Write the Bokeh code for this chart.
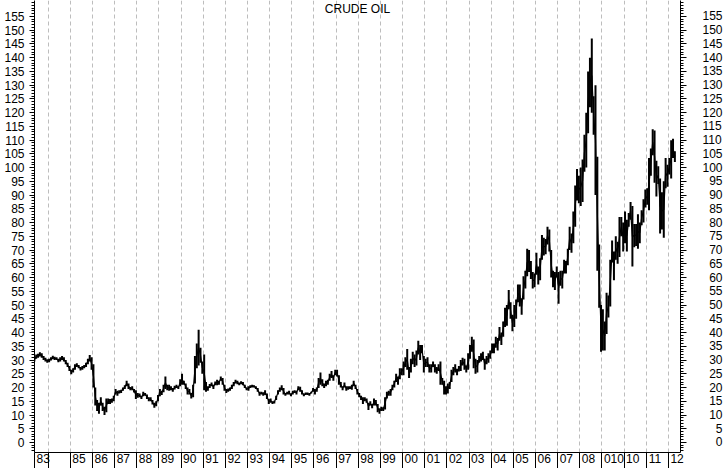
from bokeh.plotting import figure
from bokeh.models import FixedTicker, LinearAxis, Label, Range1d, Grid
from bokeh.embed import file_html
from bokeh.resources import INLINE

# ---------------- data (monthly low / high) ----------------
start_year = 1983
start_month = 5  # first bar: May 1983

low = [
    29.5, 30.5, 30.8, 31.3, 30.8, 30.0, 29.5, 29.0,                          # 1983 (May-Dec)
    29.2, 29.8, 30.3, 30.0, 30.0, 29.2, 29.5, 30.0, 29.5, 28.5, 27.5, 26.0,  # 1984
    24.8, 25.5, 26.5, 27.5, 27.0, 26.2, 26.5, 27.0, 27.5, 28.5, 29.5, 26.5,  # 1985
    20.0, 13.5, 11.5, 10.5, 13.5, 11.5, 10.0, 11.0, 14.0, 14.0, 14.5, 15.0,  # 1986
    17.5, 17.0, 17.8, 18.0, 18.8, 19.5, 20.5, 19.5, 19.0, 19.0, 18.2, 15.8,  # 1987
    16.3, 16.5, 15.8, 16.8, 17.0, 15.8, 15.0, 15.0, 13.8, 12.6, 13.2, 15.0,  # 1988
    16.8, 17.3, 18.3, 19.5, 19.0, 18.8, 19.0, 18.5, 19.3, 19.8, 19.5, 20.5,  # 1989
    21.0, 21.0, 19.5, 17.5, 17.5, 16.0, 16.5, 21.5, 27.0, 28.0, 29.0, 25.0,  # 1990
    19.0, 18.5, 18.8, 19.8, 20.5, 19.5, 20.8, 20.8, 21.0, 22.5, 21.0, 18.8,  # 1991
    18.0, 18.5, 18.8, 19.5, 20.5, 21.5, 21.2, 20.8, 21.2, 20.8, 19.8, 19.0,  # 1992
    18.8, 19.8, 20.0, 20.0, 19.5, 18.5, 17.0, 17.5, 17.0, 17.3, 15.8, 14.0,  # 1993
    14.5, 14.0, 14.2, 15.5, 17.5, 18.5, 19.0, 17.5, 17.0, 17.5, 17.5, 16.8,  # 1994
    17.5, 18.0, 17.5, 19.0, 18.5, 17.5, 16.8, 17.3, 17.3, 17.0, 17.8, 18.5,  # 1995
    17.5, 18.5, 19.8, 21.0, 20.5, 19.8, 20.5, 21.0, 22.5, 23.5, 22.5, 24.5,  # 1996
    24.0, 21.0, 20.0, 19.0, 20.0, 18.8, 19.2, 19.5, 19.2, 20.5, 19.5, 17.5,  # 1997
    16.5, 15.5, 14.0, 15.0, 14.5, 11.8, 13.5, 12.5, 13.5, 13.5, 11.0, 10.5,  # 1998
    11.5, 11.5, 12.0, 16.0, 17.0, 17.0, 19.0, 20.0, 22.0, 21.0, 23.0, 24.5,  # 1999
    24.5, 27.5, 26.5, 23.5, 25.5, 28.5, 27.5, 28.0, 32.0, 30.0, 32.5, 25.5,  # 2000
    27.5, 27.5, 25.5, 25.5, 27.5, 25.5, 25.0, 26.0, 21.0, 21.0, 17.5, 17.5,  # 2001
    17.8, 19.5, 22.0, 24.5, 25.5, 24.5, 25.8, 26.0, 28.0, 26.5, 25.5, 26.5,  # 2002
    30.5, 33.0, 27.0, 25.0, 25.5, 29.0, 29.5, 30.0, 26.5, 28.5, 29.0, 30.5,  # 2003
    32.5, 32.5, 34.5, 33.5, 37.0, 35.5, 38.5, 42.0, 42.5, 48.5, 45.0, 40.5,  # 2004
    42.0, 45.0, 51.0, 49.5, 46.5, 52.0, 56.0, 60.5, 62.0, 59.5, 56.0, 56.5,  # 2005
    61.0, 57.5, 59.0, 66.5, 68.0, 68.5, 72.0, 69.5, 60.0, 56.5, 55.5, 60.0,  # 2006
    50.5, 57.0, 56.0, 61.5, 61.5, 64.5, 70.0, 69.0, 72.5, 78.5, 88.0, 87.0,  # 2007
    86.0, 87.5, 98.5, 100.0, 112.5, 122.0, 120.0, 112.0, 90.0, 62.5, 49.0, 33.0,  # 2008
    33.5, 33.5, 39.5, 45.5, 49.5, 65.5, 59.0, 66.5, 65.0, 67.5, 75.0, 69.5,  # 2009
    72.5, 69.5, 78.5, 81.0, 64.0, 71.0, 71.5, 70.5, 72.5, 79.0, 80.0, 85.5,  # 2010
    86.5, 84.5, 97.0, 104.5, 94.5, 89.5, 94.0, 76.0, 77.5, 74.5, 92.5, 93.0,  # 2011
    97.5, 96.0, 103.5, 102.0,                                                # 2012 (Jan-Apr)
]

high = [
    30.8, 32.0, 32.3, 32.8, 32.5, 31.5, 30.8, 30.3,                          # 1983
    30.5, 31.0, 31.6, 31.2, 31.0, 30.5, 31.0, 31.5, 31.0, 30.0, 29.0, 27.8,  # 1984
    26.5, 27.0, 28.5, 28.8, 28.2, 27.5, 27.8, 28.2, 29.0, 30.5, 31.8, 31.0,  # 1985
    28.5, 20.0, 15.5, 14.5, 16.5, 14.5, 13.0, 16.0, 16.0, 15.8, 16.0, 17.0,  # 1986
    19.5, 18.8, 19.0, 19.2, 20.0, 20.8, 22.5, 21.5, 20.2, 20.5, 19.5, 19.0,  # 1987
    18.0, 17.8, 17.0, 18.5, 18.0, 17.5, 16.5, 16.5, 15.5, 14.5, 15.0, 17.3,  # 1988
    19.5, 18.8, 21.0, 24.0, 21.0, 21.0, 20.5, 19.8, 20.6, 21.0, 20.5, 23.0,  # 1989
    25.0, 22.5, 21.5, 20.0, 19.5, 18.0, 21.0, 31.5, 36.0, 41.0, 34.5, 29.5,  # 1990
    32.0, 22.0, 20.5, 21.3, 21.8, 21.0, 22.2, 22.8, 22.5, 24.0, 23.5, 21.0,  # 1991
    19.5, 19.6, 20.0, 21.0, 22.0, 22.8, 22.5, 21.8, 22.3, 22.0, 21.0, 20.0,  # 1992
    20.5, 20.8, 21.0, 20.8, 20.5, 19.8, 18.5, 18.5, 18.3, 19.0, 17.8, 15.8,  # 1993
    16.0, 15.0, 15.2, 17.0, 19.0, 20.0, 20.8, 19.8, 18.0, 18.5, 18.8, 17.8,  # 1994
    18.8, 19.0, 18.8, 20.5, 20.3, 19.0, 17.8, 18.2, 18.2, 18.0, 18.5, 19.8,  # 1995
    19.5, 20.0, 23.5, 25.5, 23.0, 21.5, 22.5, 22.8, 25.0, 26.0, 24.5, 26.5,  # 1996
    26.5, 24.5, 22.0, 20.5, 21.8, 20.5, 20.5, 20.5, 21.0, 22.5, 21.0, 19.5,  # 1997
    18.0, 17.0, 16.5, 16.5, 16.0, 14.5, 15.0, 14.0, 16.0, 15.5, 14.0, 12.5,  # 1998
    13.0, 12.8, 16.5, 18.5, 18.8, 19.5, 21.0, 22.5, 25.0, 24.0, 27.0, 27.0,  # 1999
    29.5, 31.0, 34.0, 27.5, 30.5, 33.0, 32.0, 33.5, 37.0, 35.5, 35.5, 31.5,  # 2000
    30.5, 31.0, 28.5, 28.5, 29.5, 28.5, 27.5, 28.5, 29.5, 23.5, 22.5, 20.5,  # 2001
    21.5, 22.0, 26.5, 27.5, 28.5, 26.8, 27.8, 30.0, 30.8, 30.5, 28.0, 32.5,  # 2002
    35.5, 38.5, 37.5, 30.5, 30.0, 31.5, 32.5, 33.0, 30.5, 31.5, 32.5, 33.5,  # 2003
    36.0, 36.0, 38.5, 38.0, 42.0, 40.0, 44.0, 49.0, 50.0, 55.5, 51.0, 46.5,  # 2004
    50.0, 52.0, 57.5, 57.5, 52.5, 60.5, 62.5, 70.5, 70.0, 66.0, 62.0, 61.5,  # 2005
    69.0, 64.0, 67.0, 75.5, 74.5, 74.0, 78.5, 77.5, 70.0, 62.5, 62.0, 64.0,  # 2006
    62.0, 62.5, 62.5, 66.5, 66.0, 70.5, 78.5, 76.0, 84.0, 93.5, 99.5, 97.0,  # 2007
    100.0, 103.0, 112.0, 120.0, 135.0, 140.0, 147.0, 126.0, 130.0, 104.0, 72.0, 50.0,  # 2008
    48.5, 44.0, 54.5, 53.5, 66.5, 73.5, 69.5, 75.0, 73.0, 82.0, 82.0, 80.0,  # 2009
    84.0, 81.0, 83.5, 87.5, 86.0, 79.5, 79.5, 83.0, 80.0, 84.5, 88.5, 92.0,  # 2010
    92.5, 103.5, 107.0, 114.0, 113.5, 102.5, 100.5, 96.0, 91.0, 95.0, 103.5, 101.0,  # 2011
    103.5, 110.0, 110.5, 106.0,                                              # 2012
]

title_text = "CRUDE OIL"
grid_years = list(range(1984, 2013))
x_tick_labels = ["83", "", "85", "86", "87", "88", "89", "90", "91", "92", "93", "94",
                 "95", "96", "97", "98", "99", "00", "01", "02", "03", "04", "05", "06",
                 "07", "08", "010", "10", "11", "12"]
y_tick_values = list(range(0, 160, 5))
y_minor_values = list(range(-3, 161))

# ---------------- figure ----------------
X0, X1 = 1983.3815, 2012.5463
Y0, Y1 = -3.64, 160.8
FRAME_W = 646
PX_PER_YEAR = FRAME_W / (X1 - X0)
DIGIT_W = 6.67  # approx. width of a 12px digit
SEP_LEN = 16    # length of the year separators below the axis

FONT = "Liberation Sans"

p = figure(width=725, height=468, output_backend="svg", toolbar_location=None,
           x_range=Range1d(X0, X1), y_range=Range1d(Y0, Y1),
           x_axis_location=None, y_axis_location=None,
           min_border_left=34, min_border_right=45, min_border_top=0, min_border_bottom=16)
p.outline_line_color = None
p.background_fill_color = "white"
p.border_fill_color = "white"
for g in p.grid:
    g.visible = False

# vertical dashed year grid lines
p.add_layout(Grid(dimension=0, ticker=FixedTicker(ticks=grid_years),
                  grid_line_color="#bdbdbd", grid_line_dash="4 3", grid_line_width=1))

# bottom axis: separators as minor ticks, labels on major ticks placed just right of each separator
separators = [X0] + grid_years
label_pos, label_map = [], {}
for sep, lab in zip(separators, x_tick_labels):
    if not lab:
        continue
    pos = sep + (2 + len(lab) * DIGIT_W / 2) / PX_PER_YEAR
    label_pos.append(pos)
    label_map[pos] = lab

xb = LinearAxis(ticker=FixedTicker(ticks=label_pos, minor_ticks=separators),
                major_tick_out=0, major_tick_in=0, minor_tick_out=SEP_LEN, minor_tick_in=0,
                major_label_overrides=label_map, major_label_standoff=-SEP_LEN + 1,
                major_label_text_font=FONT, major_label_text_font_size="12px",
                major_label_text_color="black",
                axis_line_color="black", minor_tick_line_color="black")
p.add_layout(xb, "below")

# left axis
yl = LinearAxis(ticker=FixedTicker(ticks=y_tick_values, minor_ticks=y_minor_values),
                major_tick_out=5, major_tick_in=0, minor_tick_out=3, minor_tick_in=0,
                major_label_standoff=5, major_label_text_font=FONT,
                major_label_text_font_size="12px", major_label_text_color="black",
                axis_line_color="black", major_tick_line_color="black",
                minor_tick_line_color="black")
p.add_layout(yl, "left")

# right axis: labels padded with figure spaces so that they line up on the right
FIG_SPACE = "\u2007"
right_map = {v: FIG_SPACE * (3 - len(str(v))) + str(v) for v in y_tick_values}
yr = LinearAxis(ticker=FixedTicker(ticks=y_tick_values, minor_ticks=y_minor_values),
                major_tick_out=6, major_tick_in=0, minor_tick_out=3, minor_tick_in=0,
                major_label_overrides=right_map, major_label_standoff=16,
                major_label_text_font=FONT, major_label_text_font_size="12px",
                major_label_text_color="black",
                axis_line_color="black", major_tick_line_color="black",
                minor_tick_line_color="black")
p.add_layout(yr, "right")

# title inside plot
p.add_layout(Label(x=(X0 + X1) / 2, y=Y1, y_offset=-1, text=title_text, text_align="center",
                   text_baseline="top", text_font=FONT, text_font_size="12px",
                   text_color="black"))

# ---------------- price bars ----------------
t = [start_year + (start_month - 1 + i + 0.5) / 12.0 for i in range(len(low))]
mid = [(a + b) / 2.0 for a, b in zip(low, high)]
p.segment(x0=t, y0=low, x1=t, y1=high, line_color="black", line_width=2)
p.line(t, mid, line_color="black", line_width=1.2)

open("out.html", "w").write(file_html(p, INLINE))
